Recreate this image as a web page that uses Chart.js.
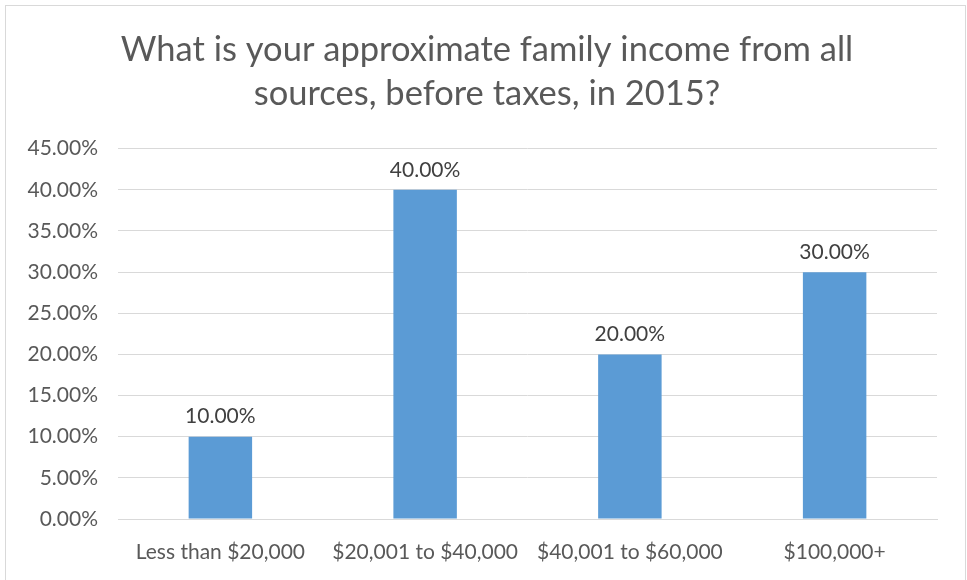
<!DOCTYPE html>
<html>
<head>
<meta charset="utf-8">
<script src="https://cdn.jsdelivr.net/npm/chart.js@4"></script>
<style>
  body { margin: 0; background: #fff; }
  #wrap { width: 967px; height: 580px; position: relative; }
</style>
</head>
<body>
<div id="wrap"><canvas id="chart" width="967" height="580"></canvas></div>
<script>
// survey answers and shares
var categories = ['Less than $20,000', '$20,001 to $40,000', '$40,001 to $60,000', '$100,000+'];
var shares = [10, 40, 20, 30];
var titleLines = ['What is your approximate family income from all', 'sources, before taxes, in 2015?'];

var FONT = 'Lato, "Open Sans", sans-serif';
var GREY = '#595959';

function pct(v) {
	return v.toFixed(2) + '%';
}

// outer frame of the chart
var frame = {
	id: 'frame',
	afterDraw: function(chart) {
		var ctx = chart.ctx;
		ctx.save();
		ctx.strokeStyle = '#d9d9d9';
		ctx.lineWidth = 1;
		ctx.strokeRect(5.5, 5.5, 960, 600);
		ctx.restore();
	}
};

// center the title on the whole frame, not just the left part
var titleShift = {
	id: 'titleShift',
	afterLayout: function(chart) {
		if (chart.titleBlock) chart.titleBlock.left = 37;
	}
};

// value text above every bar
var barLabels = {
	id: 'barLabels',
	afterDatasetsDraw: function(chart) {
		var ctx = chart.ctx;
		var meta = chart.getDatasetMeta(0);
		ctx.save();
		ctx.font = '21px ' + FONT;
		ctx.fillStyle = '#404040';
		ctx.textAlign = 'center';
		ctx.textBaseline = 'middle';
		meta.data.forEach(function(bar, i) {
			ctx.fillText(pct(shares[i]), bar.x, bar.y - 20);
		});
		ctx.restore();
	}
};

new Chart(document.getElementById('chart'), {
	type: 'bar',
	data: {
		labels: categories,
		datasets: [{
			data: shares,
			backgroundColor: '#5b9bd5',
			barPercentage: 0.62,
			categoryPercentage: 0.5
		}]
	},
	options: {
		responsive: false,
		animation: false,
		layout: { padding: { left: 0, right: 30, top: 0, bottom: 0 } },
		plugins: {
			legend: { display: false },
			tooltip: { enabled: false },
			title: {
				display: true,
				text: titleLines,
				color: GREY,
				font: { family: FONT, size: 34.5, weight: 'normal', lineHeight: 1.3 },
				padding: { top: 27, bottom: 32 }
			}
		},
		scales: {
			y: {
				min: 0,
				max: 45,
				ticks: {
					stepSize: 5,
					color: GREY,
					font: { family: FONT, size: 21 },
					padding: 20,
					callback: function(v) { return pct(v); }
				},
				grid: { color: '#d9d9d9', drawTicks: false },
				border: { display: false },
				afterFit: function(scale) { scale.width = 118; }
			},
			x: {
				ticks: {
					color: GREY,
					font: { family: FONT, size: 21 },
					padding: 13,
					maxRotation: 0
				},
				grid: { display: false },
				border: { color: '#d9d9d9' },
				afterFit: function(scale) { scale.height = 61; }
			}
		}
	},
	plugins: [frame, titleShift, barLabels]
});
</script>
</body>
</html>
